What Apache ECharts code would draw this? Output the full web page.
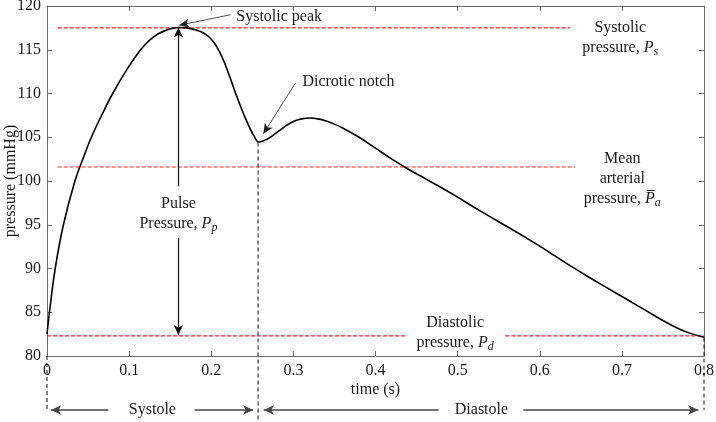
<!DOCTYPE html>
<html>
<head>
<meta charset="utf-8">
<script src="https://cdn.jsdelivr.net/npm/echarts@6/dist/echarts.min.js"></script>
<style>html,body{margin:0;padding:0;background:#fff}#c{width:716px;height:422px}</style>
</head>
<body>
<div id="c"></div>
<script>
// ---- data ----
var timeS = [0,0.003,0.010,0.020,0.034,0.044,0.054,0.067,0.080,0.097,0.114,0.125,0.135,0.147,0.160,0.170,0.180,0.190,0.198,0.205,0.211,0.217,0.223,0.229,0.235,0.241,0.247,0.252,0.258,0.265,0.272,0.280,0.290,0.300,0.310,0.320,0.330,0.340,0.350,0.360,0.380,0.400,0.420,0.440,0.460,0.480,0.500,0.520,0.540,0.560,0.580,0.600,0.620,0.640,0.660,0.680,0.700,0.720,0.740,0.760,0.780,0.800];
var pressure = [82.5,85.0,90.0,95.0,100.0,102.6,105.0,107.6,110.0,112.7,115.0,116.1,116.8,117.3,117.55,117.5,117.3,116.95,116.4,115.6,114.6,113.3,111.8,110.2,108.7,107.3,106.05,105.15,104.45,104.65,105.0,105.55,106.25,106.8,107.1,107.2,107.1,106.85,106.5,106.05,105.0,103.75,102.5,101.35,100.3,99.25,98.15,97.0,95.9,94.8,93.7,92.55,91.35,90.15,89.0,87.9,86.8,85.7,84.6,83.55,82.7,82.15];
var systolicLevel = 117.5;
var meanLevel = 101.6;
var diastolicLevel = 82.3;
var peakTime = 0.160;
var notchTime = 0.257;
var endTime = 0.8;
var xTicks = {min:0, max:0.8, interval:0.1};
var yTicks = {min:80, max:120, interval:5};
var phaseY = 73.83; // level of the systole/diastole arrows (below the axis)

var curve = timeS.map(function(t,i){return [t, pressure[i]];});
var FONT = 'Liberation Serif, Times New Roman, serif';
var AX = '#6b6b6b';
var TXT = '#1a1a1a';
var RED = '#ff2020';

function seg(pts, style, extra){
  var s = {type:'line', data:pts, symbol:'none', silent:true, clip:false, animation:false,
    lineStyle:style};
  if(extra){for(var k in extra) s[k]=extra[k];}
  return s;
}
var dashRed = {color:RED, width:1.2, type:[4,2]};
var dashBlack = {color:'#111', width:1, type:[4,3]};

function arrowML(from, to, color, width){
  return {type:'line', data:[], clip:false, silent:true,
    markLine:{silent:true, symbol:['none','arrow'], symbolSize:[7,10], animation:false,
    lineStyle:{color:color, width:width, type:'solid'}, label:{show:false},
    data:[[{coord:from},{coord:to}]]}};
}
// horizontal arrow drawn as a line series (can lie outside the plot area)
function hArrow(fromT, toT, y){
  var dir = toT > fromT ? -90 : 90;
  var tip = toT + (toT > fromT ? -0.005 : 0.005);
  return {type:'line', clip:false, silent:true, animation:false, showSymbol:true,
    lineStyle:{color:'#444', width:1.6}, itemStyle:{color:'#444'},
    data:[{value:[fromT, y], symbol:'none'},
          {value:[tip, y], symbol:'arrow', symbolSize:[7,10], symbolRotate:dir}]};
}

var series = [
  seg(curve, {color:'#000', width:1.6}, {smooth:0.4, z:5}),
  seg([[0.013, systolicLevel],[0.637, systolicLevel]], dashRed),
  seg([[0.013, meanLevel],[0.643, meanLevel]], dashRed),
  seg([[0, diastolicLevel],[0.436, diastolicLevel]], dashRed),
  seg([[0.558, diastolicLevel],[endTime, diastolicLevel]], dashRed),
  seg([[0, 80],[0, phaseY]], dashBlack),
  seg([[notchTime, 104.4],[notchTime, 72.7]], dashBlack),
  seg([[endTime, 82.1],[endTime, phaseY]], dashBlack),
  // annotation arrows
  arrowML([peakTime, 99.4],[peakTime, systolicLevel+0.05], '#111', 1.2),
  arrowML([peakTime, 93.5],[peakTime, diastolicLevel+0.1], '#111', 1.2),
  arrowML([0.2235, 119.0],[0.161, 117.8], '#222', 0.8),
  arrowML([0.3025, 111.2],[0.2635, 105.4], '#222', 0.8),
  hArrow(0.0748, 0.0, phaseY),
  hArrow(0.1796, notchTime - 0.001, phaseY),
  hArrow(0.4766, notchTime + 0.002, phaseY),
  hArrow(0.580, endTime - 0.002, phaseY)
];

var axCommon = {
  axisLine:{show:true, onZero:false, lineStyle:{color:AX, width:1}},
  axisTick:{show:true, inside:true, length:5, lineStyle:{color:AX}},
  splitLine:{show:false}
};
function mk(base, extra){var o={}; for(var k in base)o[k]=base[k]; for(var k2 in extra)o[k2]=extra[k2]; return o;}

var option = {
  animation:false,
  backgroundColor:'#fff',
  grid:{left:47, right:12, top:6, bottom:66, containLabel:false, outerBoundsMode:'none'},
  xAxis:[
    mk(axCommon,{type:'value', min:xTicks.min, max:xTicks.max, interval:xTicks.interval, position:'bottom',
      name:'time (s)', nameLocation:'middle', nameGap:26, nameMoveOverlap:false,
      nameTextStyle:{fontFamily:FONT, fontSize:16, color:TXT},
      axisLabel:{fontFamily:FONT, fontSize:16, color:TXT, margin:7}}),
    mk(axCommon,{type:'value', min:xTicks.min, max:xTicks.max, interval:xTicks.interval, position:'top',
      axisLabel:{show:false}})
  ],
  yAxis:[
    mk(axCommon,{type:'value', min:yTicks.min, max:yTicks.max, interval:yTicks.interval, position:'left',
      name:'pressure (mmHg)', nameLocation:'middle', nameGap:28, nameRotate:90, nameMoveOverlap:false,
      nameTextStyle:{fontFamily:FONT, fontSize:16, color:TXT},
      axisLabel:{fontFamily:FONT, fontSize:16, color:TXT, margin:6}}),
    mk(axCommon,{type:'value', min:yTicks.min, max:yTicks.max, interval:yTicks.interval, position:'right',
      axisLabel:{show:false}})
  ],
  series:series
};

var chart = echarts.init(document.getElementById('c'), null, {renderer:'canvas'});
chart.setOption(option);

function px(t, v){ return chart.convertToPixel({xAxisIndex:0, yAxisIndex:0}, [t, v]); }
var rich = {
  n:{fontFamily:FONT, fontSize:16, color:TXT, lineHeight:20},
  i:{fontFamily:FONT, fontSize:16, fontStyle:'italic', color:TXT, lineHeight:20},
  s:{fontFamily:FONT, fontSize:12, fontStyle:'italic', color:TXT, lineHeight:20, verticalAlign:'bottom', padding:[6,0,0,0]}
};
function txt(t, v, text, align){
  var p = px(t, v);
  return {type:'text', x:p[0], y:p[1], silent:true, z:100,
    style:{text:text, rich:rich, align:align||'center', verticalAlign:'middle',
      font:'16px ' + FONT, fill:TXT, lineHeight:20}};
}
var graphics = [
  txt(0.2305, 118.74, '{n|Systolic peak}', 'left'),
  txt(0.311, 111.3, '{n|Dicrotic notch}', 'left'),
  txt(peakTime, 96.3, '{n|Pulse}\n{n|Pressure, }{i|P}{s|p}', 'center'),
  txt(0.698, 116.34, '{n|Systolic}\n{n|pressure, }{i|P}{s|s}', 'center'),
  txt(0.7005, 100.23, '{n|Mean}\n{n|arterial}\n{n|pressure, }{i|P\u0305}{s|a}', 'center'),
  txt(0.497, 82.69, '{n|Diastolic}\n{n|pressure, }{i|P}{s|d}', 'center'),
  txt(0.1283, phaseY, '{n|Systole}', 'center'),
  txt(0.529, phaseY, '{n|Diastole}', 'center')
];
chart.setOption({graphic:graphics});
</script>
</body>
</html>
